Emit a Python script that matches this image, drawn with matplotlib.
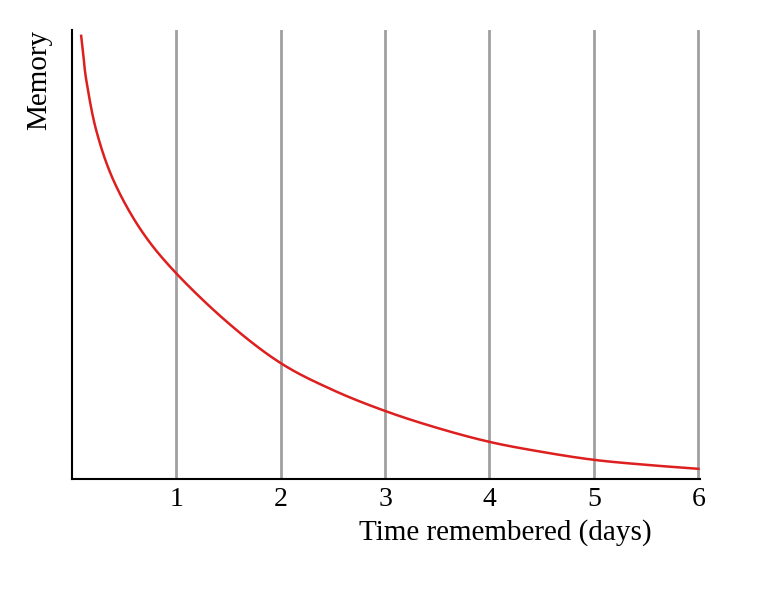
import matplotlib
matplotlib.use("Agg")
import matplotlib.pyplot as plt
import numpy as np

days = [0.09, 0.11, 0.14, 0.235, 0.40, 0.665, 1.0, 1.5, 2.0, 2.5, 3.0, 3.5, 4.0, 4.5, 5.0, 5.5, 6.0]
memory = [444, 426, 399, 349, 299, 249, 206, 156, 116, 89, 68, 51, 37, 27, 19, 14, 10]
ticks = [1, 2, 3, 4, 5, 6]

def smooth(x, y, n=30):
    # Catmull-Rom spline through the read points, for drawing only
    x = np.asarray(x, float); y = np.asarray(y, float)
    px = np.r_[2*x[0]-x[1], x, 2*x[-1]-x[-2]]
    py = np.r_[2*y[0]-y[1], y, 2*y[-1]-y[-2]]
    ox, oy = [], []
    s = np.linspace(0, 1, n, endpoint=False)
    for i in range(1, len(px)-2):
        for P, out in ((px, ox), (py, oy)):
            p0, p1, p2, p3 = P[i-1], P[i], P[i+1], P[i+2]
            out.extend(0.5*((2*p1) + (-p0+p2)*s + (2*p0-5*p1+4*p2-p3)*s**2 + (-p0+3*p1-3*p2+p3)*s**3))
    ox.append(x[-1]); oy.append(y[-1])
    return ox, oy

plt.rcParams['font.family'] = ['Liberation Serif', 'DejaVu Serif']
fig = plt.figure(figsize=(7.8, 5.97), dpi=100)
ax = fig.add_axes([0.092, 0.198, 0.806, 0.752])
for t in ticks:
    ax.axvline(t, color='#a0a0a0', lw=2, zorder=1)
sx, sy = smooth(days, memory)
ax.plot(sx, sy, color='#dd1f1f', lw=1.8, zorder=2)
ax.set_xlim(0, 6.02)
ax.set_ylim(0, 450)
ax.set_xticks(ticks)
ax.set_xticklabels([str(t) for t in ticks], fontsize=20)
ax.tick_params(axis='x', length=0, pad=6)
ax.set_yticks([])
for s in ['top', 'right']:
    ax.spines[s].set_visible(False)
for s in ['left', 'bottom']:
    ax.spines[s].set_linewidth(1.5)
ax.set_xlabel('Time remembered (days)', fontsize=21, labelpad=8)
ax.xaxis.set_label_coords(0.69, -0.09)
ax.set_ylabel('Memory', fontsize=21, loc='top', labelpad=14)
fig.savefig('out.png', dpi=100)
